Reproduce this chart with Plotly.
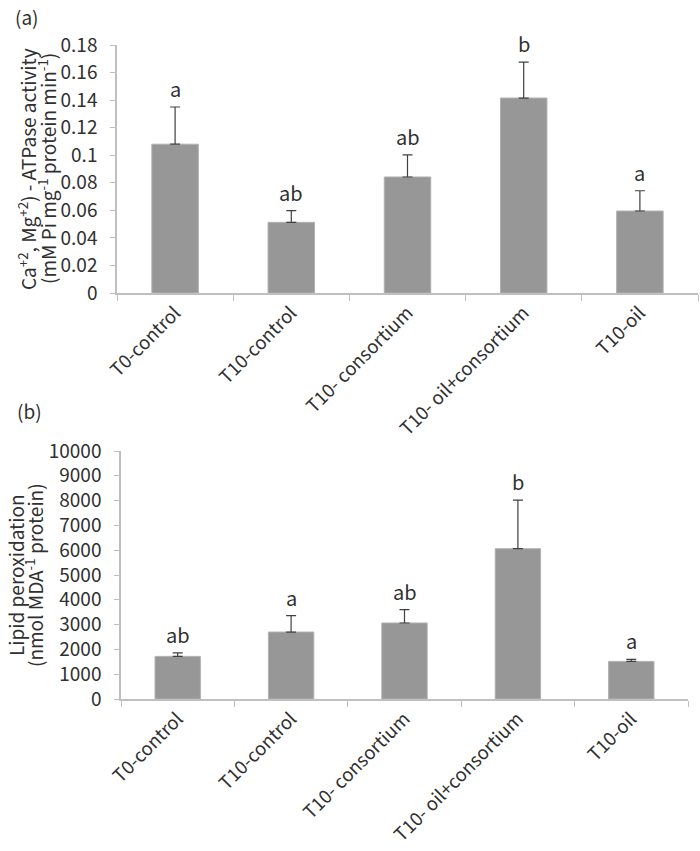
import plotly.graph_objects as go

categories = ["T0-control", "T10-control", "T10- consortium", "T10- oil+consortium", "T10-oil"]

atpase_values = [0.108, 0.0513, 0.0842, 0.1415, 0.0595]
atpase_errors = [0.027, 0.0085, 0.016, 0.026, 0.0147]
atpase_letters = ["a", "ab", "ab", "b", "a"]
atpase_tickvals = [0, 0.02, 0.04, 0.06, 0.08, 0.1, 0.12, 0.14, 0.16, 0.18]
atpase_ticktext = ["0", "0.02", "0.04", "0.06", "0.08", "0.1", "0.12", "0.14", "0.16", "0.18"]

lipid_values = [1718, 2700, 3065, 6060, 1516]
lipid_errors = [140, 660, 540, 1960, 80]
lipid_letters = ["ab", "a", "ab", "b", "a"]
lipid_tickvals = [0, 1000, 2000, 3000, 4000, 5000, 6000, 7000, 8000, 9000, 10000]
lipid_ticktext = [str(v) for v in lipid_tickvals]

atpase_title_lines = ["Ca<sup>+2</sup>, Mg<sup>+2</sup>) - ATPase activity",
                      "(mM Pi mg<sup>-1</sup> protein min<sup>-1</sup>)"]
lipid_title_lines = ["Lipid peroxidation", "(nmol MDA<sup>-1</sup> protein)"]

FONT = "Noto Sans CJK SC"
TXT = "#303030"
AX = "#bfbfbf"
BAR = "#979797"

W, H = 700, 851

def px(sx):
    return sx / W

def py(sy):
    return 1 - sy / H

fig = go.Figure()

def add_bars(vals, errs, xa, ya):
    fig.add_trace(go.Bar(
        x=categories, y=vals, xaxis=xa, yaxis=ya,
        marker=dict(color=BAR, line=dict(color="#b0b0b0", width=1)),
        error_y=dict(type="data", array=errs, arrayminus=[0]*len(errs), symmetric=False,
                     color="#404040", thickness=1.2, width=5),
        showlegend=False, hoverinfo="skip",
    ))

add_bars(atpase_values, atpase_errors, "x", "y")
add_bars(lipid_values, lipid_errors, "x2", "y2")

annotations = []
for c, v, e, t in zip(categories, atpase_values, atpase_errors, atpase_letters):
    annotations.append(dict(x=c, y=v + e, xref="x", yref="y", text=t, showarrow=False,
                            yanchor="bottom", yshift=2, font=dict(family=FONT, size=20, color=TXT)))
for c, v, e, t in zip(categories, lipid_values, lipid_errors, lipid_letters):
    annotations.append(dict(x=c, y=v + e, xref="x2", yref="y2", text=t, showarrow=False,
                            yanchor="bottom", yshift=2, font=dict(family=FONT, size=20, color=TXT)))

# panel labels
annotations.append(dict(x=px(13), y=py(16), xref="paper", yref="paper", text="(a)", showarrow=False,
                        xanchor="left", yanchor="middle", font=dict(family=FONT, size=19, color=TXT)))
annotations.append(dict(x=px(15), y=py(410), xref="paper", yref="paper", text="(b)", showarrow=False,
                        xanchor="left", yanchor="middle", font=dict(family=FONT, size=19, color=TXT)))

# y-axis titles (one annotation per line for tight line spacing)
for line, xc in zip(atpase_title_lines, [27, 47]):
    annotations.append(dict(x=px(xc), y=py(169), xref="paper", yref="paper", text=line,
                            showarrow=False, textangle=-90, xanchor="center", yanchor="middle",
                            font=dict(family=FONT, size=19, color=TXT)))
for line, xc in zip(lipid_title_lines, [15, 34]):
    annotations.append(dict(x=px(xc), y=py(575), xref="paper", yref="paper", text=line,
                            showarrow=False, textangle=-90, xanchor="center", yanchor="middle",
                            font=dict(family=FONT, size=19, color=TXT)))

xcommon = dict(type="category", showline=True, linecolor=AX, linewidth=1.5, ticks="outside",
               tickson="boundaries", ticklen=6, tickcolor=AX, tickwidth=1.2, tickangle=-45, showgrid=False,
               automargin=False, tickfont=dict(family=FONT, size=18.5, color=TXT))
ycommon = dict(showline=True, linecolor=AX, linewidth=1.5, ticks="outside", ticklen=5, tickcolor=AX,
               tickwidth=1.2, showgrid=False, zeroline=False, automargin=False,
               tickfont=dict(family=FONT, size=19, color=TXT), ticklabelstandoff=9)

fig.update_layout(
    template="none",
    width=W, height=H,
    margin=dict(l=0, r=0, t=0, b=0, pad=0),
    paper_bgcolor="white", plot_bgcolor="white",
    bargap=0.6,
    xaxis=dict(domain=[px(117), px(698)], anchor="y", **xcommon),
    yaxis=dict(domain=[py(293), py(45)], anchor="x", range=[0, 0.18],
               tickvals=atpase_tickvals, ticktext=atpase_ticktext, **ycommon),
    xaxis2=dict(domain=[px(121), px(688)], anchor="y2", **xcommon),
    yaxis2=dict(domain=[py(699), py(451)], anchor="x2", range=[0, 10000],
                tickvals=lipid_tickvals, ticktext=lipid_ticktext, **ycommon),
    annotations=annotations,
)

fig.write_html("out.html", config={"displayModeBar": False},
               post_script="document.body.style.margin='0px';")
